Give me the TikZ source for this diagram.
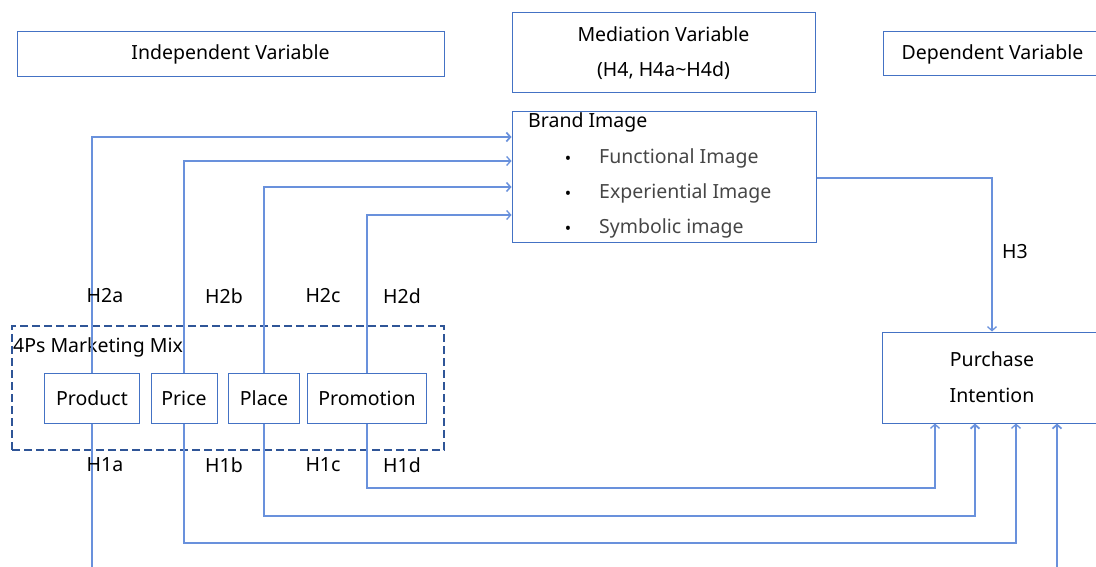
\documentclass[tikz,border=0pt]{standalone}
\usepackage{fontspec}
\setmainfont{Noto Sans}
\usetikzlibrary{arrows.meta}
\definecolor{boxblue}{RGB}{68,114,196}
\definecolor{lineblue}{RGB}{105,145,220}
\definecolor{mixblue}{RGB}{47,85,151}
\definecolor{itemgray}{RGB}{70,70,70}

\begin{document}
\begin{tikzpicture}[x=1pt, y=-1pt, font=\fontsize{19.5}{23}\selectfont,
  box/.style = {draw=boxblue, line width=1pt, inner sep=0pt},
  link/.style = {draw=lineblue, line width=1.3pt, -{Straight Barb[length=4pt,width=9pt]}},
  hyp/.style = {inner sep=0pt}]
\useasboundingbox (0,0) rectangle (1096,567);
\node[box, minimum width=427, minimum height=45] (indep) at (230.5,54.5) {Independent Variable};
\node[box, minimum width=303, minimum height=80, align=center, font=\fontsize{19.5}{35}\selectfont] (medi) at (663.5,53) {Mediation Variable\\(H4, H4a\textasciitilde H4d)};
\node[box, minimum width=219, minimum height=44] (dep) at (992.5,54) {Dependent Variable};
\node[box, minimum width=304, minimum height=130] (brand) at (664,177) {};
\node[hyp, anchor=west] (title) at (528,122) {Brand Image};
\node[hyp, font=\fontsize{17}{19}\selectfont] (b1) at (568,160) {\textbullet};
\node[hyp, font=\fontsize{17}{19}\selectfont] (b2) at (568,195) {\textbullet};
\node[hyp, font=\fontsize{17}{19}\selectfont] (b3) at (568,230) {\textbullet};
\node[hyp, anchor=west, text=itemgray] (fi) at (599,158) {Functional Image};
\node[hyp, anchor=west, text=itemgray] (ei) at (599,193) {Experiential Image};
\node[hyp, anchor=west, text=itemgray] (si) at (599,228) {Symbolic image};
\node[draw=mixblue, line width=2.2pt, dash pattern=on 8pt off 4pt, minimum width=432, minimum height=124, inner sep=0pt] (mix) at (228,388) {};
\node[hyp, anchor=west] (mixlabel) at (13,347) {4Ps Marketing Mix};
\node[box, minimum width=95, minimum height=50] (product) at (92,398) {Product};
\node[box, minimum width=66, minimum height=50] (price) at (184,398) {Price};
\node[box, minimum width=71, minimum height=50] (place) at (264,398) {Place};
\node[box, minimum width=119, minimum height=50] (promo) at (367,398) {Promotion};
\node[box, minimum width=220, minimum height=91, align=center, font=\fontsize{19.5}{36}\selectfont] (purchase) at (992,377.5) {Purchase\\Intention};
\draw[link, line width=1.7pt] (product.north) |- (brand.west |- 0,137);
\draw[link] (price.north) |- (brand.west |- 0,161);
\draw[link, line width=1.5pt] (place.north) |- (brand.west |- 0,187);
\draw[link] (promo.north) |- (brand.west |- 0,215);
\draw[link] (brand.east |- 0,178) -| (purchase.north);
\draw[link] (promo.south) |- (935,488) -- ([xshift=-57pt]purchase.south);
\draw[link, line width=1.8pt] (place.south) |- (975,516) -- ([xshift=-17pt]purchase.south);
\draw[link] (price.south) |- (1016,543) -- ([xshift=24pt]purchase.south);
\draw[link, line width=1.7pt] (product.south) |- (1057,590) -- ([xshift=65pt]purchase.south);
\node[hyp] (h2a) at (105,296) {H2a};
\node[hyp] (h2b) at (224,296) {H2b};
\node[hyp] (h2c) at (323,296) {H2c};
\node[hyp] (h2d) at (402,296) {H2d};
\node[hyp] (h1a) at (105,465) {H1a};
\node[hyp] (h1b) at (224,465) {H1b};
\node[hyp] (h1c) at (323,465) {H1c};
\node[hyp] (h1d) at (402,465) {H1d};
\node[hyp] (h3) at (1015,252) {H3};
\end{tikzpicture}
\end{document}
